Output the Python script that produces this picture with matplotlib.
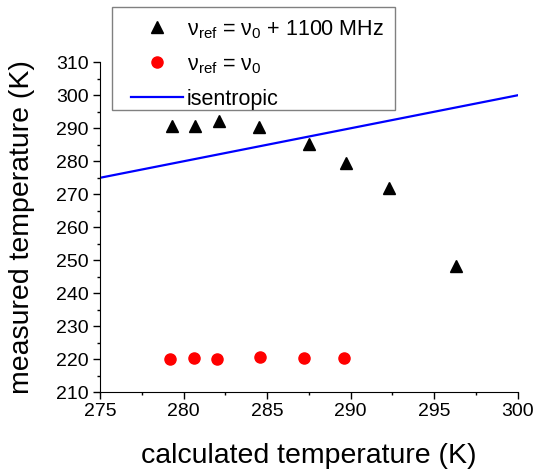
import matplotlib
matplotlib.use('Agg')
import matplotlib.pyplot as plt
from matplotlib.patches import Rectangle
from matplotlib.ticker import MultipleLocator

plt.rcParams['font.family'] = ['Liberation Sans', 'DejaVu Sans']
plt.rcParams['mathtext.default'] = 'regular'

# data
calc_shift = [279.3, 280.7, 282.1, 284.5, 287.5, 289.7, 292.3, 296.3]
meas_shift = [290.8, 290.6, 292.2, 290.4, 285.2, 279.5, 271.8, 248.4]
calc_zero = [279.2, 280.6, 282.0, 284.6, 287.2, 289.6]
meas_zero = [220.2, 220.4, 220.2, 220.7, 220.5, 220.5]
iso_x = [275, 300]
iso_y = [275, 300]

W, H = 538, 472
fig = plt.figure(figsize=(W / 100, H / 100), dpi=100)
ax = fig.add_axes([0.186, 0.169, 0.776, 0.699])

ax.plot(calc_shift, meas_shift, '^', color='black', markersize=9, linestyle='none',
        label=r'ν$_{ref}$ = ν$_0$ + 1100 MHz')
ax.plot(calc_zero, meas_zero, 'o', color='#ff0000', markersize=8, linestyle='none',
        label=r'ν$_{ref}$ = ν$_0$')
ax.plot(iso_x, iso_y, '-', color='#0000ff', linewidth=1.6, label='isentropic')

ax.set_xlim(275, 300)
ax.set_ylim(210, 310)
ax.xaxis.set_major_locator(MultipleLocator(5))
ax.xaxis.set_minor_locator(MultipleLocator(2.5))
ax.yaxis.set_major_locator(MultipleLocator(10))
ax.yaxis.set_minor_locator(MultipleLocator(5))
ax.tick_params(which='major', direction='out', length=5, width=1, labelsize=14,
               colors='black', pad=3)
ax.tick_params(which='minor', direction='out', length=2.5, width=1)
ax.spines['top'].set_visible(False)
ax.spines['right'].set_visible(False)

ax.set_xlabel('calculated temperature (K)', fontsize=20.5, labelpad=16)
ax.set_ylabel('measured temperature (K)', fontsize=20.5, labelpad=15)

# legend without its own frame, frame drawn as a plain box behind it
leg = ax.legend(loc='upper left', bbox_to_anchor=(131 / W, 1 - 18 / H),
                bbox_transform=fig.transFigure, borderaxespad=0, fontsize=15.5,
                frameon=False, handlelength=2.4, labelspacing=0.62,
                handletextpad=0.2, borderpad=0)
leg.set_zorder(6)
box = Rectangle((112 / W, 1 - 110 / H), (395 - 112) / W, (110 - 7) / H,
                transform=fig.transFigure, facecolor='white', edgecolor='#808080',
                linewidth=1.0, zorder=5, clip_on=False)
ax.add_patch(box)

fig.savefig('out.png', dpi=100, facecolor='white')
